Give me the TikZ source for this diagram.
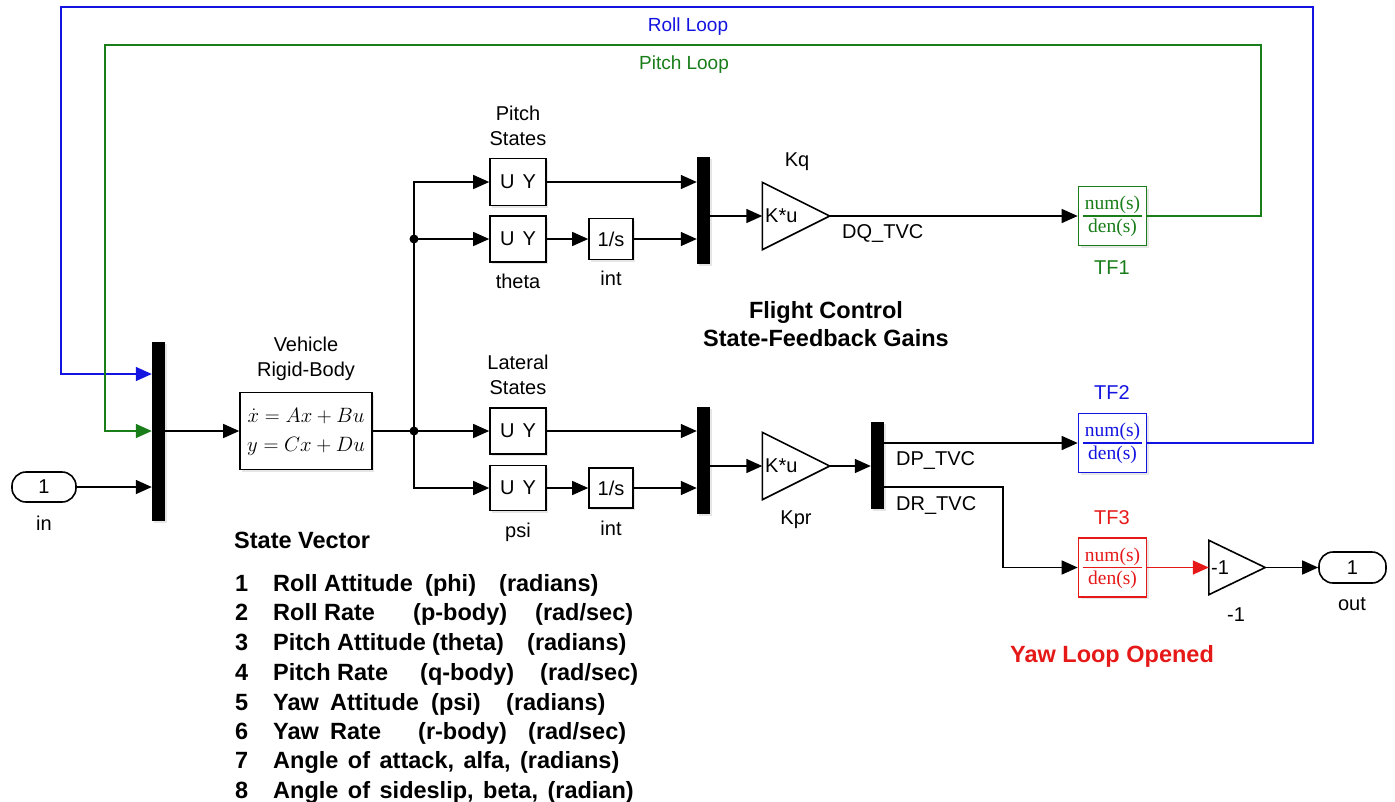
\documentclass[tikz,border=0pt]{standalone}
\usepackage{fontspec}
\setmainfont{Liberation Sans}
\newfontfamily\tfserif{Liberation Serif}
\usetikzlibrary{arrows.meta,shadows}
\definecolor{rblue}{RGB}{20,20,225}
\definecolor{rgreen}{RGB}{25,125,25}
\definecolor{rred}{RGB}{230,25,25}
\newcommand\widesp{\spaceskip=9.5pt\relax}
\tikzset{
  conn/.style={line width=1.4pt},
  arr/.style={conn,-{Triangle[length=16pt,width=14pt]}},
  blk/.style={draw,line width=1.6pt,fill=white,inner sep=0pt,
    drop shadow={shadow xshift=2pt,shadow yshift=-2pt,opacity=0.2}},
  bar/.style={fill=black,draw=none,inner sep=0pt,minimum width=13pt,
    drop shadow={shadow xshift=2pt,shadow yshift=-2pt,opacity=0.2}},
  port/.style={draw,line width=1.6pt,fill=white,rounded corners=14pt,inner sep=0pt,
    font=\fontsize{20}{24}\selectfont},
  lbl/.style={font=\fontsize{20}{25}\selectfont,inner sep=0pt,align=center},
  blbl/.style={font=\fontsize{23.5}{28}\selectfont\bfseries,inner sep=0pt,align=center},
  gainbox/.style={draw=none,inner sep=0pt,minimum width=#1},
  tft/.style={font=\tfserif\fontsize{19.5}{20}\selectfont,inner sep=0pt},
  sv/.style={font=\fontsize{23.5}{28}\selectfont\bfseries,anchor=base west,inner sep=0pt},
}
\newcommand\tfblk[4]{%
  \node[blk,draw=#4,minimum width=68pt,minimum height=59pt] (#1) at (#2,#3) {};
  \node[tft,text=#4] (#1n) at ([yshift=11pt]#1.center) {num(s)};
  \node[tft,text=#4] (#1d) at ([yshift=-12pt]#1.center) {den(s)};
  \draw[#4,line width=1.4pt] ([xshift=5pt]#1.west) -- ([xshift=-5pt]#1.east);}
\begin{document}
\begin{tikzpicture}[x=1pt,y=-1pt]
\useasboundingbox (0,0) rectangle (1395,801);

% ---- left part
\node[port,minimum width=64pt,minimum height=30pt] (in) at (44,487) {1};
\node[lbl] (inl) at (44,523) {in};
\node[bar,minimum height=179pt] (mux1) at (158.5,431) {};
\node[blk,minimum width=132pt,minimum height=77pt] (veh) at (306,431) {};
\node[inner sep=0pt,font=\fontsize{19.5}{29}\selectfont,align=center] (veht) at (306,432)
  {$\dot x = Ax + Bu$\\$y = Cx + Du$};
\node[lbl] (vehl) at (306,359) {Vehicle\\Rigid-Body};

\coordinate (j1) at (414,239);
\coordinate (j2) at (414,431);

% ---- pitch states
\node[blk,minimum width=56pt,minimum height=47pt,font=\fontsize{20}{24}\selectfont] (ps1) at (518,182) {U\hspace{8pt}Y};
\node[blk,minimum width=56pt,minimum height=46pt,font=\fontsize{20}{24}\selectfont] (ps2) at (518,239) {U\hspace{8pt}Y};
\node[blk,minimum width=44pt,minimum height=41pt,font=\fontsize{20}{24}\selectfont] (int1) at (611,239) {1/s};
\node[lbl] (psl) at (518,125.5) {Pitch\\States};
\node[lbl] (thl) at (518,281) {theta};
\node[lbl] (i1l) at (611,278) {int};
\node[bar,minimum height=107pt] (mux2) at (703.5,210.5) {};
\node[gainbox=67pt,minimum height=67pt] (kq) at (796,216) {};
\draw[line width=1.6pt,fill=white] (kq.north west) -- (kq.east) -- (kq.south west) -- cycle;
\node[lbl,anchor=west] (kqt) at (765,216) {K*u};
\node[lbl] (kql) at (797,162) {Kq};
\node[lbl,anchor=west] (dq) at (842,233) {DQ\_TVC};
\tfblk{tf1}{1112.5}{216}{rgreen}
\node[lbl,text=rgreen] (tf1l) at (1112,268) {TF1};

% ---- lateral states
\node[blk,minimum width=56pt,minimum height=46pt,font=\fontsize{20}{24}\selectfont] (ls1) at (518,431) {U\hspace{8pt}Y};
\node[blk,minimum width=56pt,minimum height=45pt,font=\fontsize{20}{24}\selectfont] (ls2) at (518,488) {U\hspace{8pt}Y};
\node[blk,minimum width=44pt,minimum height=40pt,font=\fontsize{20}{24}\selectfont] (int2) at (611,488) {1/s};
\node[lbl] (lsl) at (518,374.5) {Lateral\\States};
\node[lbl] (psil) at (518,532) {psi};
\node[lbl] (i2l) at (611,528) {int};
\node[bar,minimum height=107pt] (mux3) at (703.5,460.5) {};
\node[gainbox=67pt,minimum height=67pt] (kpr) at (796,466) {};
\draw[line width=1.6pt,fill=white] (kpr.north west) -- (kpr.east) -- (kpr.south west) -- cycle;
\node[lbl,anchor=west] (kprt) at (765,466) {K*u};
\node[lbl] (kprl) at (796,520) {Kpr};
\node[bar,minimum height=87pt] (dm) at (877.5,465.5) {};
\node[lbl,anchor=west] (dp) at (896,460) {DP\_TVC};
\node[lbl,anchor=west] (drl) at (896,505) {DR\_TVC};
\coordinate (dr) at (1003,487);
\tfblk{tf2}{1112.5}{443}{rblue}
\node[lbl,text=rblue] (tf2l) at (1112,393) {TF2};
\tfblk{tf3}{1112.5}{567.5}{rred}
\node[lbl,text=rred] (tf3l) at (1112,518) {TF3};
\node[gainbox=56pt,minimum height=54pt] (g1) at (1237,567.5) {};
\draw[line width=1.6pt,fill=white] (g1.north west) -- (g1.east) -- (g1.south west) -- cycle;
\node[lbl,anchor=west] (g1t) at (1211,567.5) {-1};
\node[lbl] (g1l) at (1236,615) {-1};
\node[port,minimum width=67pt,minimum height=31pt] (out) at (1352.5,567.5) {1};
\node[lbl] (outl) at (1352,604) {out};

% ---- texts
\node[blbl] (fc) at (826,324) {Flight Control\\State-Feedback Gains};
\node[blbl,text=rred] (yaw) at (1112,656) {Yaw Loop Opened};
\node[lbl,text=rblue,font=\fontsize{19}{24}\selectfont] (rll) at (688,27) {Roll Loop};
\node[lbl,text=rgreen,font=\fontsize{19}{24}\selectfont] (pll) at (684,65) {Pitch Loop};

% ---- loop corners
\coordinate (rl1) at (1313,7);
\coordinate (rl2) at (61,7);
\coordinate (pl1) at (1261,45);
\coordinate (pl2) at (105,45);

% ---- connectors
\draw[arr,rblue] (tf2.east) -| (rl1) -- (rl2) |- ([yshift=57pt]mux1.west);
\draw[arr,rgreen] (tf1.east) -| (pl1) -- (pl2) |- (mux1.west);
\draw[arr] (in.east) -- (in.east -| mux1.west);
\draw[arr] (mux1.east |- veh.west) -- (veh.west);
\draw[conn] (veh.east) -- (j2);
\draw[arr] (j2) |- (ps1.west);
\draw[arr] (j1) -- (ps2.west);
\draw[arr] (j2) -- (ls1.west);
\draw[arr] (j2) |- (ls2.west);
\fill (j1) circle (4.5pt);
\fill (j2) circle (4.5pt);
\draw[arr] (ps2.east) -- (int1.west);
\draw[arr] (ls2.east) -- (int2.west);
\draw[arr] (ps1.east) -- (ps1.east -| mux2.west);
\draw[arr] (int1.east) -- (int1.east -| mux2.west);
\draw[arr] (ls1.east) -- (ls1.east -| mux3.west);
\draw[arr] (int2.east) -- (int2.east -| mux3.west);
\draw[arr] (mux2.east |- kq.west) -- (kq.west);
\draw[arr] (mux3.east |- kpr.west) -- (kpr.west);
\draw[arr] (kq.east) -- (tf1.west);
\draw[arr] (kpr.east) -- (kpr.east -| dm.west);
\draw[arr] (dm.east |- tf2.west) -- (tf2.west);
\draw[arr] (dm.east |- dr) -- (dr) |- (tf3.west);
\draw[arr,rred] (tf3.east) -- (g1.west);
\draw[arr] (g1.east) -- (out.west);

% ---- state vector
\node[sv] (svt) at (234,548.5) {State Vector};
\node[sv] (r1n) at (235,591.5) {1};
\node[sv] (r1a) at (273,591.5) {Roll Attitude};
\node[sv] (r1b) at (425,591.5) {(phi)};
\node[sv] (r1c) at (499,591.5) {(radians)};
\node[sv] (r2n) at (235,620.5) {2};
\node[sv] (r2a) at (273,620.5) {Roll Rate};
\node[sv] (r2b) at (413,620.5) {(p-body)};
\node[sv] (r2c) at (535,620.5) {(rad/sec)};
\node[sv] (r3n) at (235,650.5) {3};
\node[sv] (r3a) at (273,650.5) {Pitch Attitude};
\node[sv] (r3b) at (432,650.5) {(theta)};
\node[sv] (r3c) at (527,650.5) {(radians)};
\node[sv] (r4n) at (235,680.5) {4};
\node[sv] (r4a) at (273,680.5) {Pitch Rate};
\node[sv] (r4b) at (420,680.5) {(q-body)};
\node[sv] (r4c) at (540,680.5) {(rad/sec)};
\node[sv] (r5n) at (235,710.5) {5};
\node[sv] (r5a) at (273,710.5) {Yaw};
\node[sv] (r5b) at (330,710.5) {Attitude};
\node[sv] (r5c) at (431,710.5) {(psi)};
\node[sv] (r5d) at (506,710.5) {(radians)};
\node[sv] (r6n) at (235,739.5) {6};
\node[sv] (r6a) at (273,739.5) {Yaw};
\node[sv] (r6b) at (330,739.5) {Rate};
\node[sv] (r6c) at (418,739.5) {(r-body)};
\node[sv] (r6d) at (528,739.5) {(rad/sec)};
\node[sv] (r7n) at (235,768.5) {7};
\node[sv] (r7a) at (273,768.5) {\widesp Angle of attack, alfa, (radians)};
\node[sv] (r8n) at (235,798.5) {8};
\node[sv] (r8a) at (273,798.5) {\widesp Angle of sideslip, beta, (radian)};
\end{tikzpicture}
\end{document}
